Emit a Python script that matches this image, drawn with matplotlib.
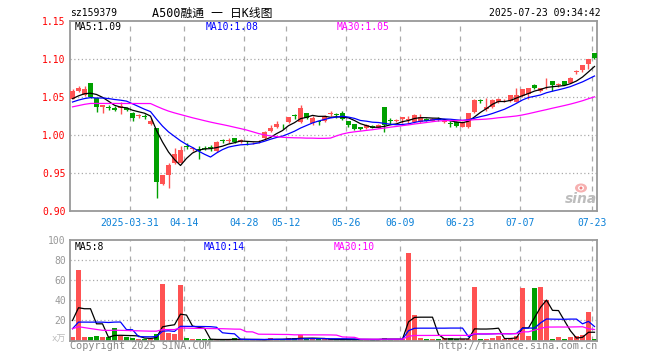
import matplotlib
matplotlib.use('Agg')
import matplotlib.pyplot as plt
from matplotlib.patches import Ellipse
import numpy as np
import pandas as pd

# ---------------- data ----------------
holidays = ['2025-04-04', '2025-05-01', '2025-05-02', '2025-05-05', '2025-06-02']
dates = [d.strftime('%Y-%m-%d') for d in pd.bdate_range('2025-03-17', '2025-07-23')
         if d.strftime('%Y-%m-%d') not in holidays]

opens = [1.048, 1.058, 1.052, 1.069, 1.049, 1.0368, 1.037, 1.035, 1.036, 1.036,
         1.029, 1.025, 1.025, 1.014, 1.0088, 0.935, 0.948, 0.9635, 0.9635, 0.9855,
         0.9815, 0.982, 0.983, 0.984, 0.979, 0.993, 0.9925, 0.9955, 0.991, 0.990,
         0.989, 0.9915, 0.9955, 1.0048, 1.010, 1.011, 1.017, 1.026, 1.017, 1.0295,
         1.0153, 1.018, 1.019, 1.028, 1.027, 1.0285, 1.019, 1.014, 1.010, 1.009,
         1.012, 1.0095, 1.0365, 1.0185, 1.019, 1.0215, 1.020, 1.0165, 1.017, 1.0215,
         1.019, 1.021, 1.0165, 1.0155, 1.0175, 1.011, 1.010, 1.030, 1.0455, 1.0337,
         1.0363, 1.0435, 1.0455, 1.0447, 1.0438, 1.0513, 1.0535, 1.0662, 1.058, 1.0652,
         1.0706, 1.0655, 1.0706, 1.0689, 1.0828, 1.0855, 1.093, 1.1075]
highs = [1.061, 1.065, 1.0645, 1.069, 1.049, 1.039, 1.040, 1.038, 1.043, 1.037,
         1.030, 1.028, 1.028, 1.022, 1.009, 0.947, 0.963, 0.983, 0.9855, 0.989,
         0.9845, 0.9855, 0.986, 0.9865, 0.992, 0.995, 0.996, 0.996, 0.995, 0.9925,
         0.991, 0.994, 1.005, 1.0135, 1.0185, 1.014, 1.024, 1.028, 1.039, 1.0295,
         1.025, 1.019, 1.026, 1.031, 1.0295, 1.0315, 1.019, 1.014, 1.010, 1.0145,
         1.013, 1.0145, 1.0365, 1.0225, 1.021, 1.0235, 1.025, 1.027, 1.028, 1.022,
         1.022, 1.0235, 1.019, 1.019, 1.0185, 1.0185, 1.0295, 1.047, 1.047, 1.0485,
         1.0468, 1.049, 1.048, 1.053, 1.0614, 1.061, 1.0625, 1.0665, 1.0625, 1.0755,
         1.0706, 1.068, 1.071, 1.0763, 1.0855, 1.0917, 1.1004, 1.1075]
lows = [1.047, 1.056, 1.051, 1.049, 1.030, 1.0288, 1.033, 1.0315, 1.027, 1.031,
        1.019, 1.023, 1.0205, 1.013, 0.917, 0.934, 0.930, 0.962, 0.9627, 0.982,
        0.979, 0.968, 0.980, 0.979, 0.978, 0.990, 0.9895, 0.989, 0.990, 0.987,
        0.988, 0.990, 0.994, 1.0035, 1.0088, 1.0075, 1.0155, 1.021, 1.016, 1.0205,
        1.013, 1.0135, 1.0175, 1.025, 1.023, 1.0195, 1.0105, 1.0065, 1.006, 1.008,
        1.009, 1.009, 1.0045, 1.014, 1.017, 1.016, 1.014, 1.016, 1.016, 1.018,
        1.018, 1.018, 1.016, 1.010, 1.010, 1.010, 1.0088, 1.029, 1.0415, 1.0315,
        1.035, 1.042, 1.044, 1.044, 1.043, 1.0505, 1.048, 1.060, 1.057, 1.061,
        1.058, 1.0635, 1.0655, 1.068, 1.0805, 1.0828, 1.0864, 1.0996]
closes = [1.058, 1.0615, 1.060, 1.0504, 1.0368, 1.039, 1.036, 1.0335, 1.038, 1.0325,
          1.023, 1.026, 1.024, 1.019, 0.938, 0.947, 0.960, 0.9745, 0.980, 0.9845,
          0.9825, 0.979, 0.982, 0.9825, 0.991, 0.992, 0.993, 0.9908, 0.9935, 0.989,
          0.9895, 0.992, 1.0045, 1.0088, 1.014, 1.010, 1.024, 1.0245, 1.035, 1.0228,
          1.0228, 1.0175, 1.025, 1.0285, 1.026, 1.0206, 1.0127, 1.0075, 1.0075, 1.0135,
          1.0095, 1.0135, 1.0128, 1.018, 1.0195, 1.024, 1.021, 1.0262, 1.0235, 1.019,
          1.0215, 1.020, 1.018, 1.0145, 1.0115, 1.017, 1.0295, 1.0465, 1.0445, 1.0363,
          1.0455, 1.0478, 1.046, 1.052, 1.052, 1.061, 1.062, 1.062, 1.0622, 1.0656,
          1.0658, 1.066, 1.0658, 1.0746, 1.0832, 1.0917, 1.1004, 1.101]
volumes = [3, 70, 3, 3, 4, 3, 3, 12, 4, 3,
           2.3, 1.3, 1.6, 2.3, 6.7, 56, 7.3, 6, 55, 2.3,
           1.3, 1, 1, 1, 1, 1, 1, 2, 1, 0.7,
           0.7, 0.8, 1.2, 2, 1.2, 1, 2, 2, 5, 1.5,
           1.5, 1, 1.2, 1, 1, 1.2, 1, 1, 1, 1,
           1, 1, 2.7, 1, 1, 1, 87, 25, 2, 1,
           1, 1, 2.7, 2, 1, 1, 1, 53, 1, 1,
           2.3, 4, 1.3, 1.3, 4, 52, 4, 52, 53, 40,
           1, 3, 1, 3, 4, 5, 28, 1]
# closes / volumes of the 29 sessions before the window (needed by the moving averages)
prior_closes = [1.012, 1.010, 1.015, 1.037, 1.039, 1.036, 1.034, 1.039, 1.033, 1.024,
                1.026, 1.024, 1.020, 1.045, 1.048, 1.050, 1.046, 1.044, 1.048, 1.047,
                1.036, 1.040, 1.038, 1.042, 1.039, 1.043, 1.046, 1.047, 1.045]
prior_volumes = [10, 30, 31, 30, 28, 7, 7, 7, 7, 7,
                 7, 7, 7, 7, 7, 7, 7, 7, 7, 7,
                 4, 3, 3.5, 3.5, 3.5, 6.5, 8, 3, 79]

tick_dates = ['2025-03-31', '2025-04-14', '2025-04-28', '2025-05-12', '2025-05-26',
              '2025-06-09', '2025-06-23', '2025-07-07', '2025-07-23']
tick_labels = ['2025-03-31', '04-14', '04-28', '05-12', '05-26', '06-09', '06-23', '07-07', '07-23']
price_ticks = [0.90, 0.95, 1.00, 1.05, 1.10, 1.15]
vol_ticks = [20, 40, 60, 80, 100]

code = 'sz159379'
title = 'A500融通 一 日K线图'
stamp = '2025-07-23 09:34:42'
price_ma_labels = ['MA5:1.09', 'MA10:1.08', 'MA30:1.05']
vol_ma_labels = ['MA5:8', 'MA10:14', 'MA30:10']

# ---------------- styling ----------------
RED = '#ff5252'
GREEN = '#00a000'
MA_COLORS = ['#000000', '#0000ff', '#ff00ff']
GRID = '#aaaaaa'
FRAME = '#999999'
MONO = ['DejaVu Sans Mono', 'Noto Sans CJK SC']
FS = 7

W, H = 660, 360
fig = plt.figure(figsize=(W / 100, H / 100), dpi=100)
fig.patch.set_facecolor('white')

def px_axes(left, top, right, bottom):
    return fig.add_axes([left / W, 1 - bottom / H, (right - left) / W, (bottom - top) / H])

ax = px_axes(70, 21, 597, 211)
axv = px_axes(70, 240, 597, 340.5)

n = len(dates)
x = np.arange(n)
o = np.array(opens); h = np.array(highs); l = np.array(lows); c = np.array(closes)
v = np.array(volumes)
up = c >= o
cols = np.where(up, RED, GREEN)

all_c = pd.Series(list(prior_closes) + list(closes))
all_v = pd.Series(list(prior_volumes) + list(volumes))
k0 = len(prior_closes)
ma_price = [all_c.rolling(p).mean().values[k0:] for p in (5, 10, 30)]
ma_vol = [all_v.rolling(p).mean().values[k0:] for p in (5, 10, 30)]

xmin, xmax = -0.417, 87.417
tick_x = [dates.index(d) - 0.4 for d in tick_dates]

for a in (ax, axv):
    a.set_xlim(xmin, xmax)
    for s in a.spines.values():
        s.set_color(FRAME)
        s.set_linewidth(1.3)
    for tx in tick_x:
        a.axvline(tx, color=GRID, lw=0.9, ls=(0, (4, 4)), zorder=0)

# price panel
ax.set_ylim(0.90, 1.15)
for yv in price_ticks[1:-1]:
    ax.axhline(yv, color=GRID, lw=0.9, ls=(0, (1, 2)), zorder=0)
ax.vlines(x, l, h, colors=cols, lw=1.0, zorder=2)
body = np.maximum(np.abs(c - o), 0.0011)
ax.bar(x, body, bottom=np.minimum(o, c), width=0.75, color=cols, lw=0, zorder=3)
for m, col in zip(ma_price, MA_COLORS):
    ax.plot(x, m, color=col, lw=0.9, zorder=4)
ax.set_yticks(price_ticks)
ax.set_yticklabels([f'{t:.2f}' for t in price_ticks], color='#ff0000', fontsize=FS, family=MONO)
ax.set_xticks(tick_x)
ax.set_xticklabels(tick_labels, color='#0a80d8', fontsize=FS, family=MONO)
ax.tick_params(axis='both', length=0)
ax.tick_params(axis='y', pad=3)
ax.tick_params(axis='x', pad=5)

# volume panel
axv.set_ylim(0, 100)
for yv in vol_ticks[:-1]:
    axv.axhline(yv, color=GRID, lw=0.9, ls=(0, (1, 2)), zorder=0)
axv.bar(x, v, width=0.78, color=cols, lw=0, zorder=2)
for m, col in zip(ma_vol, MA_COLORS):
    axv.plot(x, m, color=col, lw=0.9, zorder=4)
axv.set_yticks(vol_ticks)
axv.set_yticklabels([str(t) for t in vol_ticks], color='#999999', fontsize=FS, family=MONO)
axv.set_xticks([])
axv.tick_params(axis='both', length=0, pad=3)

def ftext(px, py, s, **kw):
    kw.setdefault('fontsize', FS)
    kw.setdefault('family', MONO)
    kw.setdefault('va', 'center')
    fig.text(px / W, 1 - py / H, s, **kw)

# header
ftext(70, 13, code, color='black')
ftext(152, 13, title, color='black', fontsize=8.5)
ftext(601, 13, stamp, color='black', ha='right')

# MA labels
for px, s, col in zip((75, 206, 337), price_ma_labels, MA_COLORS):
    ftext(px, 27, s, color=col)
for px, s, col in zip((75, 204, 334), vol_ma_labels, MA_COLORS):
    ftext(px, 246.5, s, color=col)

# footer
ftext(66, 339, 'x万', color='#bbbbbb', ha='right', fontsize=6.5)
ftext(70, 346, 'Copyright 2025 SINA.COM', color='#888888', fontsize=7.3)
ftext(597, 346, 'http://finance.sina.com.cn', color='#888888', ha='right', fontsize=7.3)

# sina watermark (eye drawn as shapes, word as text)
ftext(581, 199, 'sina', color='#bdbdbd', ha='center', fontsize=10, family='DejaVu Sans',
      style='italic', weight='bold')
for (ew, eh, fc) in ((12, 9, '#f6b0b0'), (6, 5, '#ffffff'), (3, 3, '#f08080')):
    fig.add_artist(Ellipse((581 / W, 1 - 188 / H), ew / W, eh / H,
                           transform=fig.transFigure, facecolor=fc, edgecolor='none'))

fig.savefig('out.png', dpi=100)
